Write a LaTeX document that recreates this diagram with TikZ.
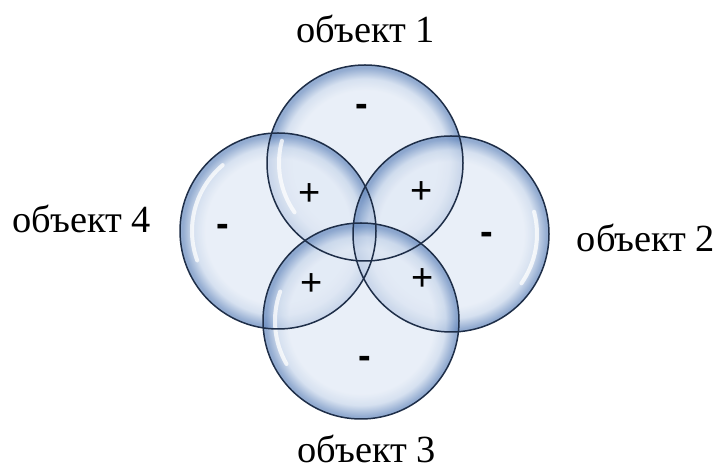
\documentclass[tikz,border=0pt]{standalone}
\usepackage{fontspec}
\usetikzlibrary{calc}
\setmainfont{Liberation Serif}
\newfontfamily\signfont{Liberation Sans}
\definecolor{bubcenter}{HTML}{E1E9F5}
\definecolor{bubmid}{HTML}{C6D5EA}
\definecolor{bubrim}{HTML}{6A8CBF}
\definecolor{bubedge}{HTML}{1E2E48}
\pgfdeclareradialshading{bubble}{\pgfpoint{0bp}{0bp}}{%
  color(0bp)=(bubcenter); color(18.5bp)=(bubcenter); color(21.5bp)=(bubmid);
  color(24.3bp)=(bubrim); color(25bp)=(bubrim); color(50bp)=(bubrim)}
\begin{document}
\begin{tikzpicture}[x=0.5bp,y=-0.5bp,
  bubblebox/.style={circle, inner sep=0pt, minimum size=98bp, shading=bubble,
    fill opacity=0.72},
  edgeline/.style={draw=bubedge, line width=0.75bp},
  hilite/.style={white, line width=2bp, line cap=round, opacity=0.75},
  objlabel/.style={font=\fontsize{19.2bp}{22bp}\selectfont, anchor=base, inner sep=0pt},
  sign/.style={font=\signfont\fontsize{19bp}{22bp}\selectfont, inner sep=0pt},
  minussign/.style={font=\signfont\bfseries\fontsize{19bp}{22bp}\selectfont, inner sep=0pt}]
\useasboundingbox (0,0) rectangle (719,473);
\node[bubblebox] (c1) at (365,163) {};
\node[bubblebox] (c4) at (278,231) {};
\node[bubblebox] (c2) at (451,234) {};
\node[bubblebox] (c3) at (361,321) {};
% highlights and outlines (canvas coordinates, y up)
\begin{scope}[x=1bp,y=1bp]
  \draw[hilite] (c4.center) ++(130:43) arc[start angle=130, end angle=200, radius=43];
  \draw[hilite] (c1.center) ++(165:43) arc[start angle=165, end angle=215, radius=43];
  \draw[hilite] (c3.center) ++(160:43) arc[start angle=160, end angle=210, radius=43];
  \draw[hilite] (c2.center) ++(-35:43) arc[start angle=-35, end angle=15, radius=43];
  \foreach \c in {c1,c2,c3,c4}{
    \draw[edgeline] (\c.center) circle[radius=49];
  }
\end{scope}
\node[objlabel] (l1) at (366,43) {объект 1};
\node[objlabel] (l2) at (646,252) {объект 2};
\node[objlabel] (l3) at (367,463) {объект 3};
\node[objlabel] (l4) at (82,233) {объект 4};
\node[minussign] (m1) at (362,110) {-};
\node[minussign] (m4) at (223,230) {-};
\node[minussign] (m2) at (487,238) {-};
\node[minussign] (m3) at (365,362) {-};
\node[sign] (p1) at (310,195) {+};
\node[sign] (p2) at (422,193) {+};
\node[sign] (p3) at (312,285) {+};
\node[sign] (p4) at (423,280) {+};
\end{tikzpicture}
\end{document}
